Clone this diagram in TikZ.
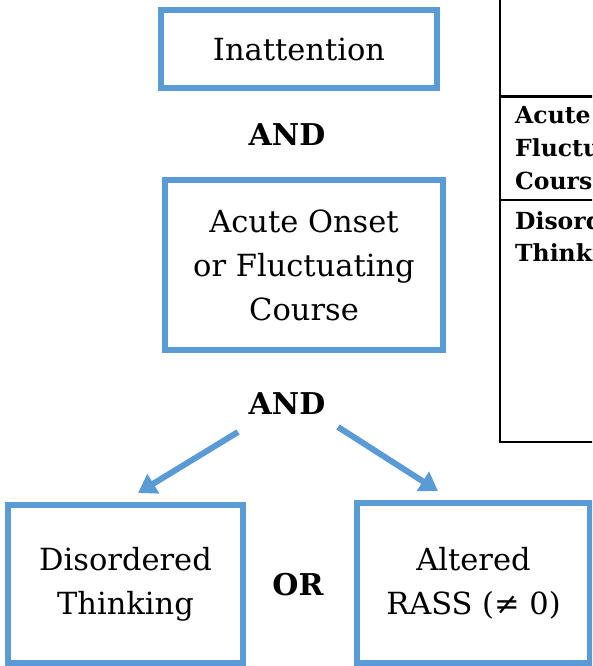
\documentclass[tikz,border=0pt]{standalone}
\usepackage{fontspec}
\setmainfont{DejaVu Serif}
\usetikzlibrary{arrows.meta}
\definecolor{boxblue}{HTML}{5B9BD5}
\begin{document}
\begin{tikzpicture}[x=1pt,y=-1pt,
  crit/.style={draw=boxblue, line width=6pt, align=center, inner sep=0pt,
    font=\fontsize{30.5}{44}\selectfont},
  conj/.style={font=\bfseries\fontsize{30}{36}\selectfont, inner sep=0pt},
  tabtext/.style={font=\bfseries\fontsize{23.5}{28}\selectfont, anchor=base west, inner sep=0pt},
  tabline/.style={line width=#1, draw=black},
  flow/.style={draw=boxblue, line width=6pt, -{Triangle[length=18pt,width=22pt]}}]
\useasboundingbox (0,0) rectangle (592,666);
\clip (0,0) rectangle (592,666);
% table fragment on the right
\draw[tabline=2pt] (500,-2) -- (500,442) -- (600,442);
\draw[tabline=3pt] (500,97) -- (600,97);
\draw[tabline=1.5pt] (500,200) -- (600,200);
\node[tabtext] (t1) at (515,124) {Acute};
\node[tabtext] (t2) at (515,156) {Fluctuating};
\node[tabtext] (t3) at (515,189) {Course};
\node[tabtext] (t4) at (515,229) {Disordered};
\node[tabtext] (t5) at (515,261) {Thinking};
% boxes
\node[crit, minimum width=276pt, minimum height=78pt] (inatt) at (299,49) {Inattention};
\node[conj] (and1) at (287,135) {AND};
\node[crit, minimum width=278pt, minimum height=170pt] (acute) at (304,265)
  {Acute Onset\\or Fluctuating\\Course};
\node[conj] (and2) at (287,404) {AND};
\node[crit, minimum width=235pt, minimum height=158pt] (dis) at (125.5,584)
  {Disordered\\Thinking};
\node[conj] (or) at (298,585) {OR};
\node[crit, minimum width=233pt, minimum height=160pt] (alt) at (473.5,583)
  {Altered\\RASS (≠ 0)};
% arrows
\coordinate (ls) at (238,432);
\coordinate (le) at (138,493);
\coordinate (rs) at (338,427);
\coordinate (re) at (438,491);
\draw[flow] (ls) -- (le);
\draw[flow] (rs) -- (re);
\end{tikzpicture}
\end{document}
